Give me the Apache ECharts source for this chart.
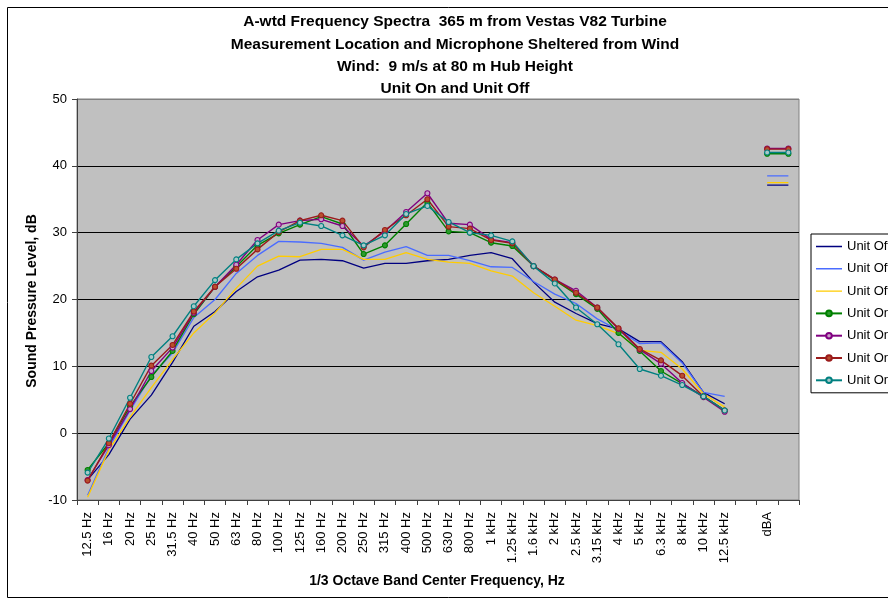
<!DOCTYPE html>
<html><head><meta charset="utf-8">
<script src="https://cdn.jsdelivr.net/npm/echarts@6/dist/echarts.min.js"></script>
<style>html,body{margin:0;padding:0;background:#fff}#c{width:888px;height:602px}</style>
</head><body><div id="c"></div>
<script>
const categories = ['12.5 Hz','16 Hz','20 Hz','25 Hz','31.5 Hz','40 Hz','50 Hz','63 Hz','80 Hz','100 Hz','125 Hz','160 Hz','200 Hz','250 Hz','315 Hz','400 Hz','500 Hz','630 Hz','800 Hz','1 kHz','1.25 kHz','1.6 kHz','2 kHz','2.5 kHz','3.15 kHz','4 kHz','5 kHz','6.3 kHz','8 kHz','10 kHz','12.5 kHz','','dBA',''];
const unitOff1 = [-7.0,-3.2,2.1,5.7,10.6,16.0,18.2,21.2,23.4,24.4,25.9,26.0,25.8,24.7,25.4,25.4,25.8,26.0,26.6,27.0,26.1,22.6,19.6,17.9,16.4,15.6,13.7,13.7,10.7,6.1,4.4,null,37.1,37.1];
const unitOff2 = [-9.3,-2.2,3.4,8.6,12.0,17.3,20.0,23.9,26.6,28.7,28.6,28.4,27.8,25.9,27.1,27.9,26.6,26.6,25.8,24.9,24.8,22.7,20.8,19.4,17.1,15.4,13.4,13.5,10.5,6.1,5.5,null,38.5,38.5];
const unitOff3 = [-9.6,-2.5,2.4,6.8,11.0,15.0,18.0,21.7,25.0,26.5,26.4,27.5,27.5,26.0,26.0,27.0,26.0,25.6,25.4,24.3,23.5,21.0,19.0,16.9,16.1,14.9,12.4,12.1,9.6,5.9,3.9,null,37.5,37.5];
const unitOn1 = [-5.5,-1.5,4.0,8.4,12.3,17.8,21.9,24.9,28.1,29.9,31.2,32.4,31.3,26.8,28.1,31.3,34.5,30.2,30.0,28.5,28.0,25.0,22.9,20.8,18.6,15.0,12.3,9.3,7.4,5.5,3.4,null,41.8,41.8];
const unitOn2 = [-7.0,-1.8,3.6,9.3,12.8,18.0,21.9,25.2,28.9,31.2,31.8,32.0,31.0,28.0,30.2,33.1,35.9,31.4,31.2,29.0,28.5,25.0,23.0,21.3,18.8,15.6,12.5,10.4,7.5,5.4,3.2,null,42.6,42.6];
const unitOn3 = [-7.1,-1.5,4.4,10.1,13.2,18.2,21.9,24.6,27.5,30.1,31.8,32.6,31.8,27.8,30.4,32.6,35.0,30.9,30.6,28.9,28.4,25.0,23.0,21.0,18.8,15.7,12.6,10.9,8.6,5.5,3.4,null,42.5,42.5];
const unitOn4 = [-5.9,-0.8,5.3,11.4,14.5,19.0,22.9,26.0,28.4,30.3,31.5,31.0,29.6,28.1,29.6,32.8,34.0,31.6,30.0,29.6,28.7,25.0,22.4,18.8,16.3,13.3,9.6,8.6,7.2,5.5,3.4,null,42.0,42.0];
const seriesNames = ['Unit Off 1','Unit Off 2','Unit Off 3','Unit On 1','Unit On 2','Unit On 3','Unit On 4'];
const titleLines = ['A-wtd Frequency Spectra  365 m from Vestas V82 Turbine','Measurement Location and Microphone Sheltered from Wind','Wind:  9 m/s at 80 m Hub Height','Unit On and Unit Off'];
const yAxisTitle = 'Sound Pressure Level, dB';
const xAxisTitle = '1/3 Octave Band Center Frequency, Hz';

const FONT = '"Liberation Sans", Arial, sans-serif';
const chart = echarts.init(document.getElementById('c'), null, {renderer: 'canvas'});

const LINE_ICON = 'path://M0,0L0.01,0L0.01,0.01ZM0,2.8L26,2.8L26,4.2L0,4.2ZM25.99,7L26,7L26,6.99Z';

function offSeries(name, data, color) {
  return {name, type: 'line', data, symbol: 'none', connectNulls: false, silent: true,
    lineStyle: {color, width: 1.3}, itemStyle: {color}, emphasis: {disabled: true}, animation: false};
}
function onSeries(name, data, color, fill) {
  return {name, type: 'line', data, symbol: 'circle', symbolSize: 5, showSymbol: true, showAllSymbol: true,
    connectNulls: false, silent: true,
    lineStyle: {color, width: 1.4}, itemStyle: {color: fill, borderColor: color, borderWidth: 1.1},
    emphasis: {disabled: true}, animation: false};
}

const option = {
  backgroundColor: '#fff',
  animation: false,
  textStyle: {fontFamily: FONT},
  grid: {left: 77, top: 99, width: 722, height: 401, show: true, backgroundColor: '#C0C0C0', borderColor: '#808080', borderWidth: 1, containLabel: false},
  legend: {
    orient: 'vertical', left: 811, top: 234, padding: [6, 4, 6, 4], itemGap: 9.3, itemWidth: 26, itemHeight: 7,
    borderColor: '#000', borderWidth: 1, backgroundColor: '#fff', selectedMode: false,
    textStyle: {fontFamily: FONT, fontSize: 13, color: '#000'},
    data: [
      {name: seriesNames[0], icon: LINE_ICON},
      {name: seriesNames[1], icon: LINE_ICON},
      {name: seriesNames[2], icon: LINE_ICON},
      seriesNames[3], seriesNames[4], seriesNames[5], seriesNames[6]
    ]
  },
  xAxis: {
    type: 'category', data: categories, boundaryGap: true,
    axisLine: {show: true, onZero: false, lineStyle: {color: '#404040', width: 1}},
    axisTick: {show: true, interval: 0, length: 5, lineStyle: {color: '#404040'}},
    axisLabel: {interval: 0, rotate: 90, fontSize: 13, color: '#000', margin: 12, fontFamily: FONT},
    splitLine: {show: false}
  },
  yAxis: {
    type: 'value', min: -10, max: 50, interval: 10,
    axisLine: {show: true, onZero: false, lineStyle: {color: '#404040', width: 1}},
    axisTick: {show: true, length: 5, lineStyle: {color: '#404040'}},
    axisLabel: {fontSize: 13, color: '#000', margin: 10, fontFamily: FONT},
    splitLine: {show: true, lineStyle: {color: ['#404040', '#000', '#000', '#000', '#000', '#000', '#808080'], width: 1}}
  },
  graphic: [
    {type: 'rect', shape: {x: 7.5, y: 7.5, width: 1000, height: 590}, style: {fill: 'none', stroke: '#000', lineWidth: 1}, silent: true, z: -10},
    {type: 'text', x: 455, y: 11, style: {text: titleLines.join('\n'), font: 'bold 15.5px ' + FONT, fill: '#000', textAlign: 'center', textVerticalAlign: 'top', lineHeight: 22.3}, silent: true},
    {type: 'text', x: 32, y: 301, rotation: Math.PI / 2, style: {text: yAxisTitle, font: 'bold 14px ' + FONT, fill: '#000', textAlign: 'center', textVerticalAlign: 'middle'}, silent: true},
    {type: 'text', x: 437, y: 581, style: {text: xAxisTitle, font: 'bold 14px ' + FONT, fill: '#000', textAlign: 'center', textVerticalAlign: 'middle'}, silent: true}
  ],
  series: [
    offSeries(seriesNames[0], unitOff1, '#000080'),
    offSeries(seriesNames[1], unitOff2, '#4A6CFF'),
    offSeries(seriesNames[2], unitOff3, '#FFCC00'),
    onSeries(seriesNames[3], unitOn1, '#008000', '#2E9A2E'),
    onSeries(seriesNames[4], unitOn2, '#800080', '#C8A0C8'),
    onSeries(seriesNames[5], unitOn3, '#9B1B1B', '#B8502E'),
    onSeries(seriesNames[6], unitOn4, '#008080', '#A8C8C8')
  ]
};
chart.setOption(option);
</script></body></html>
